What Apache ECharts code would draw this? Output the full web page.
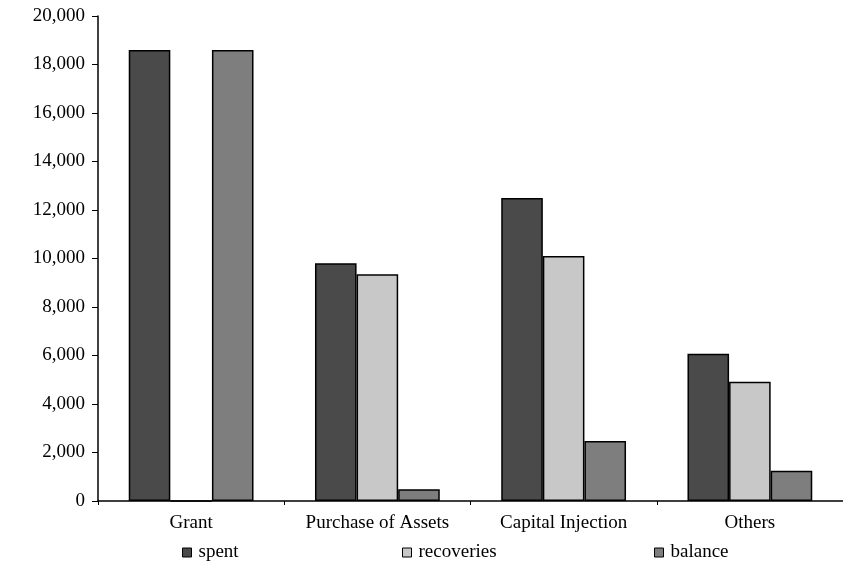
<!DOCTYPE html>
<html><head><meta charset="utf-8">
<script src="https://cdn.jsdelivr.net/npm/echarts@6/dist/echarts.min.js"></script>
<style>html,body{margin:0;padding:0;background:#fff}#c{width:843px;height:563px}</style>
</head><body><div id="c"></div>
<script>
var categories = ['Grant', 'Purchase of Assets', 'Capital Injection', 'Others'];
var spent = [18600, 9800, 12500, 6070];
var recoveries = [0, 9350, 10100, 4920];
var balance = [18600, 480, 2470, 1250];
var seriesNames = ['spent', 'recoveries', 'balance'];
var yTicks = {min: 0, max: 20000, interval: 2000};

var font = '"Liberation Serif", "Times New Roman", serif';
var colors = ['#4a4a4a', '#c8c8c8', '#7e7e7e'];
var chart = echarts.init(document.getElementById('c'));
function mkSeries(name, data, i) {
  return {
    name: name, type: 'bar', data: data, barGap: '0%', barCategoryGap: '33%',
    itemStyle: {color: colors[i], borderColor: '#000', borderWidth: 1.5},
    emphasis: {disabled: true}
  };
}
function mkLegend(name, left) {
  return {
    data: [name], left: left, top: 538, itemWidth: 9, itemHeight: 9, icon: 'rect', itemGap: 0,
    textStyle: {fontFamily: font, fontSize: 19, color: '#000', padding: [0, 0, 0, 2]},
    itemStyle: {borderColor: '#000', borderWidth: 1}
  };
}
chart.setOption({
  animation: false,
  textStyle: {fontFamily: font},
  legend: [mkLegend(seriesNames[0], 177), mkLegend(seriesNames[1], 397), mkLegend(seriesNames[2], 649)],
  grid: {left: 98, right: -1, top: 16, bottom: 62, containLabel: false},
  xAxis: {
    type: 'category', data: categories,
    axisLine: {lineStyle: {color: '#000', width: 1.5}},
    axisTick: {show: true, length: 4, lineStyle: {color: '#000'}},
    axisLabel: {fontFamily: font, fontSize: 19, color: '#000', margin: 13, interval: 0}
  },
  yAxis: {
    type: 'value', min: yTicks.min, max: yTicks.max, interval: yTicks.interval,
    axisLine: {show: true, lineStyle: {color: '#000', width: 1.5}},
    axisTick: {show: true, length: 6, lineStyle: {color: '#000'}},
    splitLine: {show: false},
    axisLabel: {fontFamily: font, fontSize: 19, color: '#000', margin: 13,
      formatter: function (v) { return v.toLocaleString('en-US'); }}
  },
  series: [mkSeries(seriesNames[0], spent, 0), mkSeries(seriesNames[1], recoveries, 1), mkSeries(seriesNames[2], balance, 2)]
});
</script></body></html>
